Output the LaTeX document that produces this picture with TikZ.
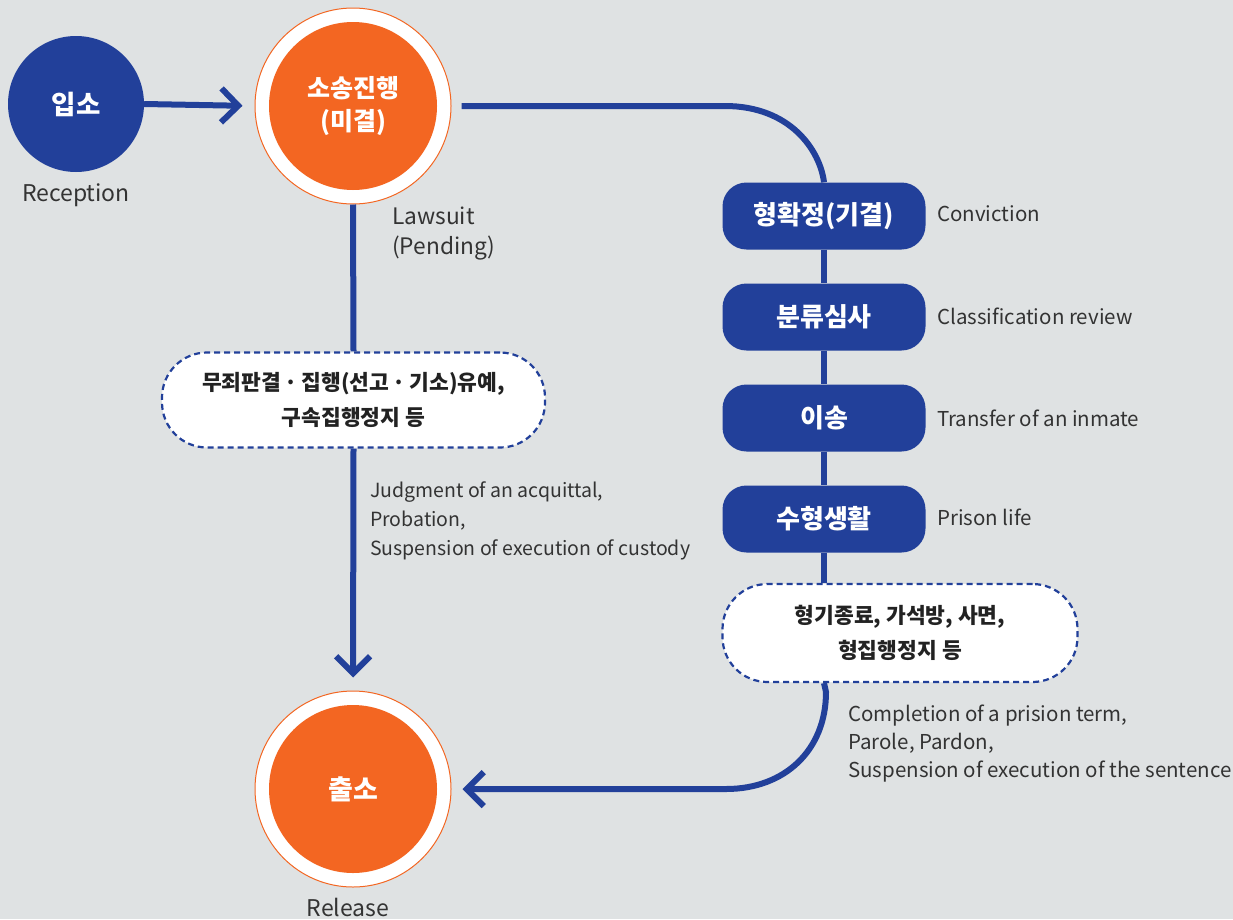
\documentclass[tikz,border=0pt]{standalone}
\usepackage{fontspec}
\setmainfont{Noto Sans CJK KR}
\usetikzlibrary{arrows.meta}
\definecolor{bg}{HTML}{DFE2E3}
\definecolor{navy}{HTML}{22409A}
\definecolor{org}{HTML}{F36622}
\definecolor{txt}{HTML}{333333}
\definecolor{dark}{HTML}{222222}
\begin{document}
\begin{tikzpicture}[x=1pt,y=-1pt,
  flow/.style={draw=navy, line width=6pt},
  arr/.style={flow, -{Straight Barb[length=17pt,width=34pt]}},
  bluecirc/.style={circle, fill=navy, minimum size=136pt, inner sep=0pt, text=white,
    font=\bfseries\fontsize{26.5}{30}\selectfont},
  orgcirc/.style={circle, fill=white, draw=org, line width=1pt, minimum size=196pt, inner sep=0pt,
    text=white, align=center, font=\bfseries\fontsize{25}{33}\selectfont,
    path picture={\fill[org] (path picture bounding box.center) circle (84pt);}},
  stepbox/.style={rounded corners=24pt, fill=navy, minimum width=203pt, minimum height=67pt,
    inner sep=0pt, text=white, font=\bfseries\fontsize{26}{30}\selectfont},
  dbox/.style={draw=navy, line width=2.2pt, dash pattern=on 6pt off 4pt, fill=white,
    rounded corners=45pt, inner sep=0pt, align=center, text=dark,
    font=\bfseries\fontsize{21.5}{35}\selectfont},
  lab/.style={inner sep=0pt, text=txt}
]
\useasboundingbox (0,0) rectangle (1233,919);
\fill[bg] (0,0) rectangle (1233,919);

\coordinate (c1) at (725,106);
\coordinate (c2) at (826,692);
\coordinate (c3) at (726,789);

\node[bluecirc] (in) at (76,104) {입소};
\node[orgcirc] (ing) at (353,106) {소송진행\\(미결)};
\node[orgcirc, font=\bfseries\fontsize{27}{33}\selectfont] (out) at (353,789) {출소};

\node[stepbox] (s1) at (824,216) {형확정(기결)};
\node[stepbox] (s2) at (824,317) {분류심사};
\node[stepbox] (s3) at (824,418) {이송};
\node[stepbox] (s4) at (824,519) {수형생활};

\node[dbox, minimum width=383pt, minimum height=95pt] (d1) at (353.5,400)
  {무죄판결\,·\,집행(선고\,·\,기소)유예,\\구속집행정지 등};
\node[dbox, minimum width=355pt, minimum height=98pt] (d2) at (900,633)
  {형기종료, 가석방, 사면,\\형집행정지 등};

\draw[arr, shorten >=12pt] (in.east) -- (ing.west);
\draw[flow, shorten <=10pt] (ing.east) -- (c1) .. controls (790,106) and (820,150) .. (s1.north);
\draw[flow] (ing.south) -- (d1.north);
\draw[arr, shorten >=13pt] (d1.south) -- (out.north);
\draw[flow] (s1) -- (s2);
\draw[flow] (s2) -- (s3);
\draw[flow] (s3) -- (s4);
\draw[flow] (s4.south) -- (s4.south |- d2.north);
\draw[arr, shorten >=11pt] (s4.south |- d2.south) -- (c2) .. controls (826,750) and (785,789) .. (c3) -- (out.east);

\node[lab, font=\fontsize{23}{29}\selectfont] (rec) at (76,195) {Reception};
\node[lab, font=\fontsize{23}{29}\selectfont] (rel) at (348,907) {Release};
\node[lab, anchor=west, align=left, font=\fontsize{22.7}{30}\selectfont] (law) at (392,234) {Lawsuit\\(Pending)};
\node[lab, anchor=west, align=left, font=\fontsize{19.5}{29}\selectfont] (jud) at (370,521)
  {Judgment of an acquittal,\\Probation,\\Suspension of execution of custody};
\node[lab, anchor=west, font=\fontsize{20.5}{28}\selectfont] (l1) at (937,214) {Conviction};
\node[lab, anchor=west, font=\fontsize{20.5}{28}\selectfont] (l2) at (937,316) {Classification review};
\node[lab, anchor=west, font=\fontsize{20.5}{28}\selectfont] (l3) at (937,418) {Transfer of an inmate};
\node[lab, anchor=west, font=\fontsize{20.5}{28}\selectfont] (l4) at (937,517) {Prison life};
\node[lab, anchor=west, align=left, font=\fontsize{20.5}{28}\selectfont] (com) at (848,744)
  {Completion of a prision term,\\Parole, Pardon,\\Suspension of execution of the sentence};
\end{tikzpicture}
\end{document}
